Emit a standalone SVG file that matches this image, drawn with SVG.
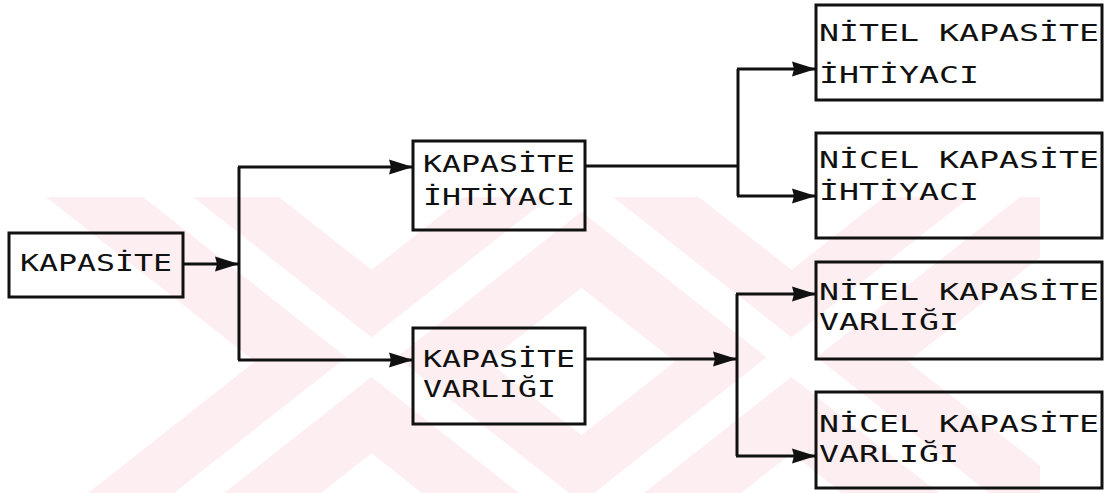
<svg xmlns="http://www.w3.org/2000/svg" width="1105" height="493" viewBox="0 0 1105 493">
<style>
.box{fill:none;stroke:#111;stroke-width:3}
.wm{fill:#fdeef1}
.st{fill:#ffffff}
.t{font-family:"DejaVu Sans Mono","Liberation Mono",monospace;font-size:23px;fill:#111}
.c{fill:none;stroke:#111;stroke-width:3}
</style>
<defs>
<marker id="ah" markerUnits="userSpaceOnUse" markerWidth="25" markerHeight="16" refX="24" refY="8" orient="auto">
<path d="M0,0.5 L24,8 L0,15.5 L2,8 Z" fill="#111"/>
</marker>
<clipPath id="wmclip"><rect x="0" y="197" width="1040" height="296"/></clipPath>
</defs>
<rect width="1105" height="493" fill="#fff"/>
<g id="watermark" clip-path="url(#wmclip)">
<polygon class="wm" points="46,197 279,197 655,493 422,493"/>
<polygon class="wm" points="464,197 697,197 321,493 88,493"/>
<polygon class="wm" points="466,197 699,197 1075,493 842,493"/>
<polygon class="wm" points="884,197 1117,197 741,493 508,493"/>
<polygon class="st" points="143,197 193,197 569,493 519,493"/>
<polygon class="st" points="550,197 600,197 224,493 174,493"/>
<polygon class="st" points="563,197 613,197 989,493 939,493"/>
<polygon class="st" points="970,197 1020,197 644,493 594,493"/>
</g>
<g id="connectors">
<path class="c" d="M183,264 H239" marker-end="url(#ah)"/>
<path class="c" d="M239,167 V360"/>
<path class="c" d="M238,167 H413" marker-end="url(#ah)"/>
<path class="c" d="M238,360 H413" marker-end="url(#ah)"/>
<path class="c" d="M585,166 H738"/>
<path class="c" d="M738,69 V196"/>
<path class="c" d="M737,69 H816" marker-end="url(#ah)"/>
<path class="c" d="M737,196 H816" marker-end="url(#ah)"/>
<path class="c" d="M585,359 H737" marker-end="url(#ah)"/>
<path class="c" d="M737,294 V456"/>
<path class="c" d="M736,294 H816" marker-end="url(#ah)"/>
<path class="c" d="M736,456 H816" marker-end="url(#ah)"/>
</g>
<g id="n-kapasite">
<rect class="box" x="9" y="233" width="174" height="64"/>
<text class="t" x="20" y="271" textLength="152" lengthAdjust="spacingAndGlyphs">KAPASİTE</text>
</g>
<g id="n-ihtiyac">
<rect class="box" x="413" y="141" width="172" height="89"/>
<text class="t" x="423" y="172" textLength="152" lengthAdjust="spacingAndGlyphs">KAPASİTE</text>
<text class="t" x="423" y="205" textLength="152" lengthAdjust="spacingAndGlyphs">İHTİYACI</text>
</g>
<g id="n-varlik">
<rect class="box" x="413" y="328" width="172" height="96"/>
<text class="t" x="423" y="367" textLength="152" lengthAdjust="spacingAndGlyphs">KAPASİTE</text>
<text class="t" x="423" y="397" textLength="133" lengthAdjust="spacingAndGlyphs">VARLIĞI</text>
</g>
<g id="n-nitel-ihtiyac">
<rect class="box" x="816" y="5" width="286" height="95"/>
<text class="t" x="819" y="41" textLength="280" lengthAdjust="spacingAndGlyphs">NİTEL KAPASİTE</text>
<text class="t" x="819" y="83" textLength="160" lengthAdjust="spacingAndGlyphs">İHTİYACI</text>
</g>
<g id="n-nicel-ihtiyac">
<rect class="box" x="816" y="133" width="286" height="105"/>
<text class="t" x="819" y="168" textLength="280" lengthAdjust="spacingAndGlyphs">NİCEL KAPASİTE</text>
<text class="t" x="819" y="200" textLength="160" lengthAdjust="spacingAndGlyphs">İHTİYACI</text>
</g>
<g id="n-nitel-varlik">
<rect class="box" x="816" y="262" width="286" height="97"/>
<text class="t" x="819" y="300" textLength="280" lengthAdjust="spacingAndGlyphs">NİTEL KAPASİTE</text>
<text class="t" x="819" y="330" textLength="140" lengthAdjust="spacingAndGlyphs">VARLIĞI</text>
</g>
<g id="n-nicel-varlik">
<rect class="box" x="816" y="392" width="286" height="96"/>
<text class="t" x="819" y="432" textLength="280" lengthAdjust="spacingAndGlyphs">NİCEL KAPASİTE</text>
<text class="t" x="819" y="462" textLength="140" lengthAdjust="spacingAndGlyphs">VARLIĞI</text>
</g>
</svg>
